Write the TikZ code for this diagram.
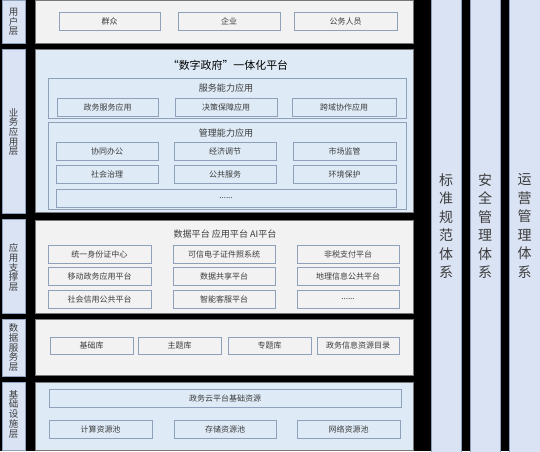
\documentclass[tikz,border=0pt]{standalone}
\usepackage{fontspec}
\setmainfont{Noto Sans CJK SC}

\definecolor{panelgray}{RGB}{242,242,242}
\definecolor{panelblue}{RGB}{222,235,247}
\definecolor{labelblue}{RGB}{218,227,243}
\definecolor{boxline}{RGB}{143,160,186}
\definecolor{panelline}{RGB}{120,120,120}
\definecolor{txtgray}{RGB}{60,60,60}

\newcommand\tightlines{\lineskiplimit=-10pt\relax\lineskip=0pt\relax}

\tikzset{
  graypanel/.style={draw=panelline, fill=panelgray, line width=0.6pt},
  bluepanel/.style={draw=panelline, fill=panelblue, line width=0.6pt},
  layerlabel/.style={draw=boxline, fill=labelblue, line width=0.6pt},
  itembox/.style={draw=boxline, line width=0.6pt},
  itemtext/.style={inner sep=0.75pt, text=txtgray, font=\fontsize{6}{7}\selectfont},
  headtext/.style={inner sep=0.75pt, text=txtgray, font=\fontsize{6.8}{8}\selectfont},
  vtext/.style={inner sep=0.75pt, align=center, text=txtgray, font=\fontsize{7.1}{7.3}\selectfont\tightlines},
  systext/.style={inner sep=0.75pt, align=center, text=txtgray, font=\fontsize{10.5}{13.9}\selectfont\tightlines},
}

\begin{document}
\begin{tikzpicture}[x=0.75pt,y=0.75pt,yscale=-1,xscale=1]
%set diagram: 540 x 451, black background
\path [fill=black, use as bounding box] (0,0) rectangle (540,451);

%Shape: layer labels
\draw [layerlabel] (2,0.5) rectangle (25,43);
\draw [layerlabel] (2,49) rectangle (25,213);
\draw [layerlabel] (2,219) rectangle (25,313);
\draw [layerlabel] (2,319) rectangle (25,376);
\draw [layerlabel] (2,382) rectangle (25,450.5);
% Text Node
\node [vtext] (lyh) at (13.5,22) {用\\户\\层};
\node [vtext] (lyw) at (13.5,132) {业\\务\\应\\用\\层};
\node [vtext] (lzc) at (13.5,267.5) {应\\用\\支\\撑\\层};
\node [vtext] (lsj) at (13.5,347.5) {数\\据\\服\\务\\层};
\node [vtext] (ljc) at (13.5,414) {基\\础\\设\\施\\层};

%Shape: system columns
\draw [layerlabel] (431,-1) rectangle (461,452);
\draw [layerlabel] (470,-1) rectangle (500,452);
\draw [layerlabel] (509,-1) rectangle (541,452);
% Text Node
\node [systext] (bzgf) at (446,226) {标\\准\\规\\范\\体\\系};
\node [systext] (aqgl) at (485,226) {安\\全\\管\\理\\体\\系};
\node [systext] (yygl) at (524.5,226) {运\\营\\管\\理\\体\\系};

%Shape: user layer
\draw [graypanel] (35,0.5) rectangle (413,43);
\draw [itembox] (59,12) rectangle (160,30);
\draw [itembox] (178,12) rectangle (280,30);
\draw [itembox] (294,12) rectangle (397,30);
% Text Node
\node [itemtext] (qz) at (109.5,21) {群众};
\node [itemtext] (qy) at (229,21) {企业};
\node [itemtext] (gwry) at (345.5,21) {公务人员};

%Shape: business layer
\draw [bluepanel] (35,49) rectangle (413,212);
\draw [itembox] (48,78) rectangle (406,118);
\draw [itembox] (57,98) rectangle (158,116);
\draw [itembox] (175,98) rectangle (277,116);
\draw [itembox] (292,98) rectangle (396,116);
\draw [itembox] (48,122) rectangle (406,209);
\draw [itembox] (56,142) rectangle (158,160);
\draw [itembox] (174,142) rectangle (276,160);
\draw [itembox] (293,142) rectangle (396,160);
\draw [itembox] (56,165) rectangle (158,183);
\draw [itembox] (174,165) rectangle (276,183);
\draw [itembox] (293,165) rectangle (396,183);
\draw [itembox] (56,189) rectangle (396,207);
% Text Node
\node [inner sep=0.75pt, font=\fontsize{8.2}{9}\selectfont] (szzf) at (228,65) {“数字政府”一体化平台};
\node [headtext] (fwnl) at (226,88) {服务能力应用};
\node [itemtext] (zwfw) at (107.5,107) {政务服务应用};
\node [itemtext] (jcbz) at (226,107) {决策保障应用};
\node [itemtext] (kyxz) at (344,107) {跨域协作应用};
\node [headtext] (glnl) at (226,133) {管理能力应用};
\node [itemtext] (xtbg) at (107,151) {协同办公};
\node [itemtext] (jjtj) at (225,151) {经济调节};
\node [itemtext] (scjg) at (344.5,151) {市场监管};
\node [itemtext] (shzl) at (107,174) {社会治理};
\node [itemtext] (ggfw) at (225,174) {公共服务};
\node [itemtext] (hjbh) at (344.5,174) {环境保护};
\node [itemtext] (ywmore) at (226,198) {......};

%Shape: support layer
\draw [graypanel] (35,220) rectangle (413,313);
\draw [itembox] (48,245) rectangle (151,263);
\draw [itembox] (173,245) rectangle (275,263);
\draw [itembox] (297,245) rectangle (399,263);
\draw [itembox] (48,267) rectangle (151,285);
\draw [itembox] (173,267) rectangle (275,285);
\draw [itembox] (297,267) rectangle (399,285);
\draw [itembox] (48,290) rectangle (151,308);
\draw [itembox] (173,290) rectangle (275,308);
\draw [itembox] (297,290) rectangle (399,308);
% Text Node
\node [headtext] (ptzc) at (225,234) {数据平台 应用平台 AI平台};
\node [itemtext] (tysf) at (99.5,254) {统一身份证中心};
\node [itemtext] (kxdz) at (224,254) {可信电子证件照系统};
\node [itemtext] (fszf) at (348,254) {非税支付平台};
\node [itemtext] (ydzw) at (99.5,276) {移动政务应用平台};
\node [itemtext] (sjgx) at (224,276) {数据共享平台};
\node [itemtext] (dlxx) at (348,276) {地理信息公共平台};
\node [itemtext] (shxy) at (99.5,299) {社会信用公共平台};
\node [itemtext] (znkf) at (224,299) {智能客服平台};
\node [itemtext] (zcmore) at (348,299) {......};

%Shape: data layer
\draw [graypanel] (35,319) rectangle (413,375);
\draw [itembox] (50,337) rectangle (133,354);
\draw [itembox] (138,337) rectangle (221,354);
\draw [itembox] (228,337) rectangle (311,354);
\draw [itembox] (317,337) rectangle (399,354);
% Text Node
\node [itemtext] (jck) at (91.5,345.5) {基础库};
\node [itemtext] (ztk) at (179.5,345.5) {主题库};
\node [itemtext] (zhtk) at (269.5,345.5) {专题库};
\node [itemtext] (zwxx) at (358,345.5) {政务信息资源目录};

%Shape: infrastructure layer
\draw [bluepanel] (35,382) rectangle (413,450.5);
\draw [itembox] (49,389) rectangle (401,407);
\draw [itembox] (49,420) rectangle (152,438);
\draw [itembox] (174,420) rectangle (276,438);
\draw [itembox] (297,420) rectangle (400,438);
% Text Node
\node [itemtext] (zwy) at (225,398) {政务云平台基础资源};
\node [itemtext] (jszy) at (100.5,429) {计算资源池};
\node [itemtext] (cczy) at (225,429) {存储资源池};
\node [itemtext] (wlzy) at (348.5,429) {网络资源池};

\end{tikzpicture}
\end{document}
